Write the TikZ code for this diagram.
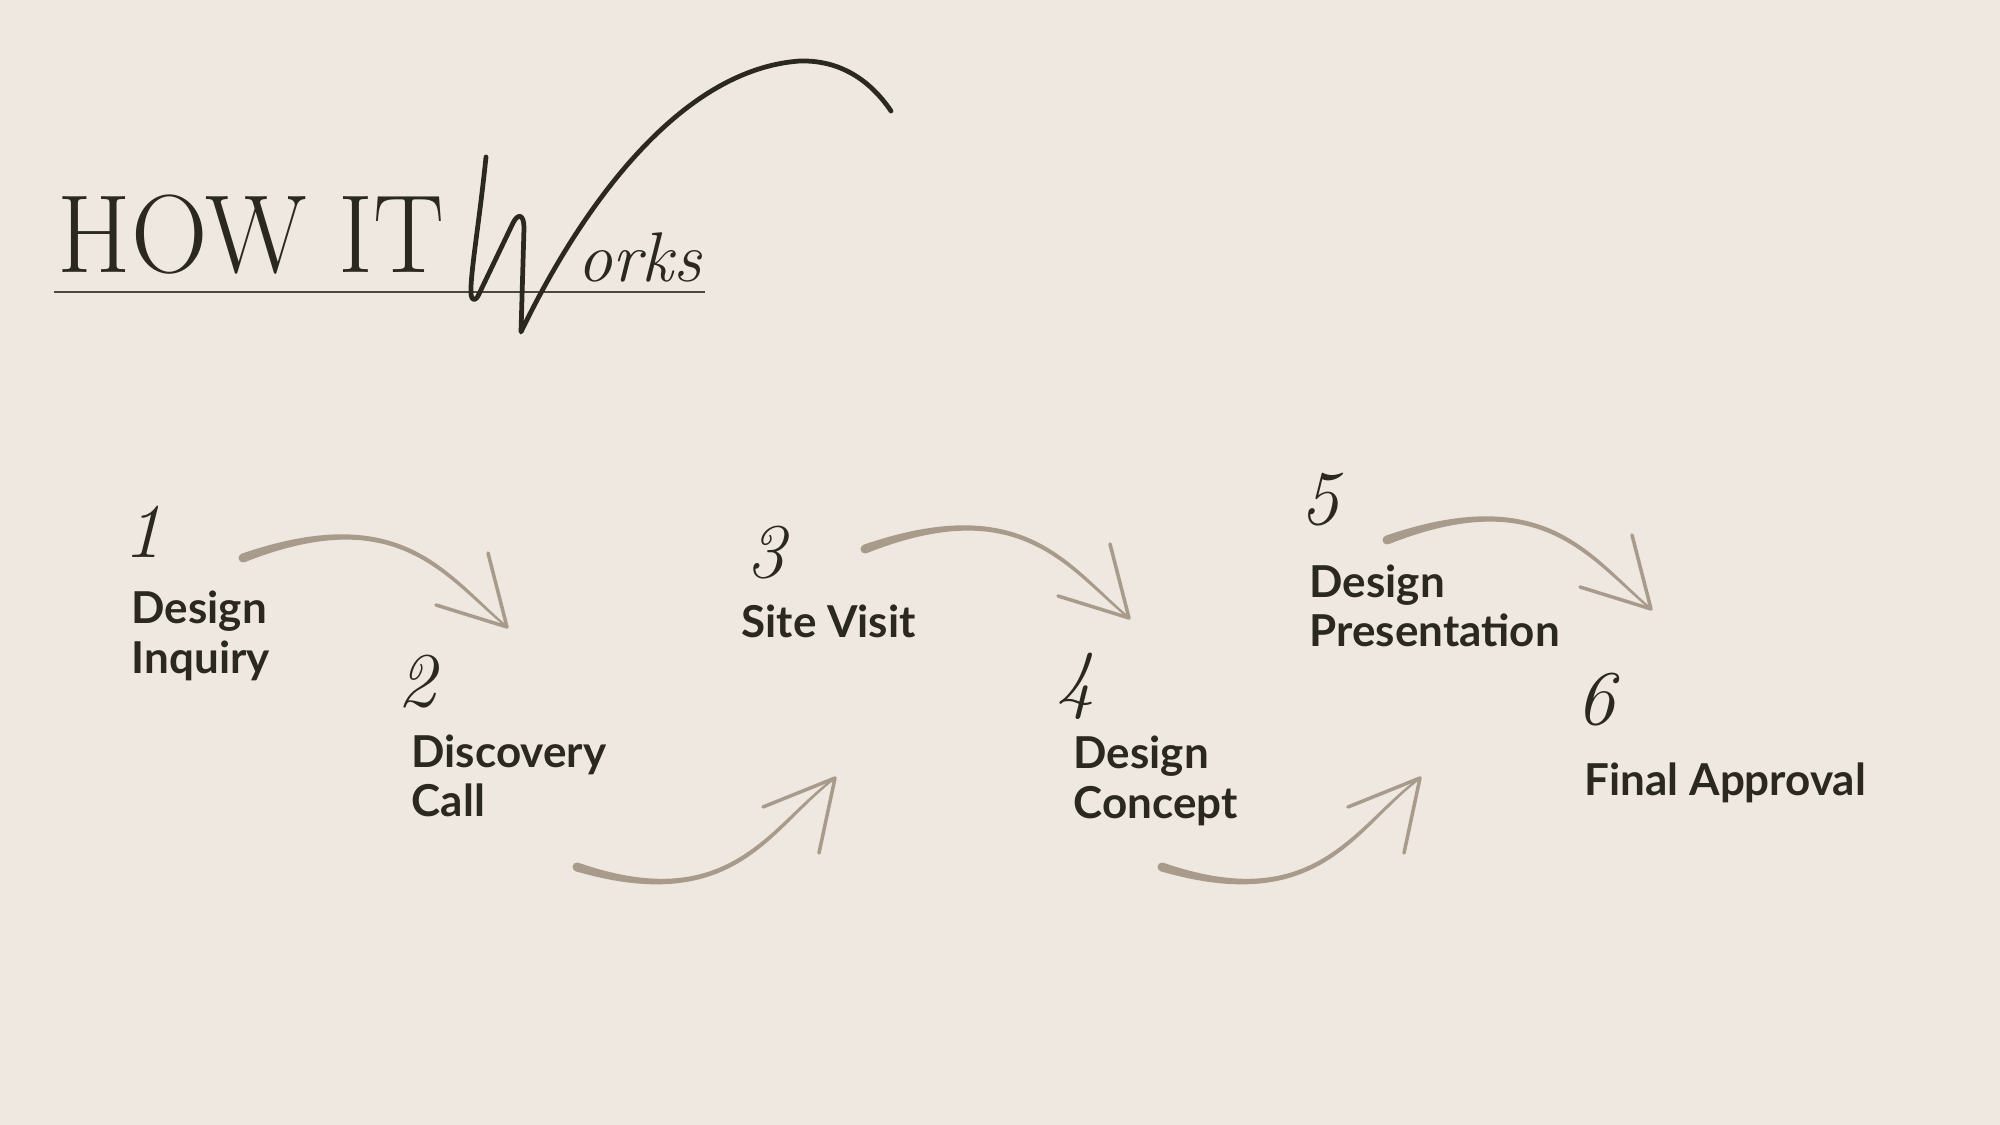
\documentclass[tikz,border=0pt]{standalone}
\usepackage{fontspec}
\usepackage{graphicx}
\usetikzlibrary{calc}
\newfontfamily\lblfont{Lato}
\definecolor{bgc}{HTML}{EFE8E0}
\definecolor{ink}{HTML}{2B2820}
\definecolor{arrc}{HTML}{A89B8C}
\tikzset{
  lbl/.style={anchor=base west, inner sep=0pt, align=left, text=ink, font={\lblfont\bfseries\fontsize{12.5}{14.2}\selectfont}},
  num/.style={anchor=base west, inner sep=0pt, text=ink, font={\itshape\fontsize{22}{22}\selectfont}},
  arrhead/.style={draw=arrc, line width=1.0pt, line cap=round, line join=round},
  wstroke/.style={draw=ink, line width=1.35pt, line cap=round, line join=round},
}
\newcommand\taperfill[4]{%
  \fill[arrc] ($(#1)!0.045cm!90:(#2)$) .. controls ($(#2)!0.032cm!90:(#3)$) and ($(#3)!0.018cm!90:(#4)$) .. ($(#4)!0.011cm!-90:(#3)$)
    -- ($(#4)!0.011cm!90:(#3)$) .. controls ($(#3)!0.018cm!-90:(#4)$) and ($(#2)!0.032cm!-90:(#3)$) .. ($(#1)!0.045cm!-90:(#2)$) -- cycle;
  \fill[arrc] (#1) circle[radius=0.045cm];
}
\begin{document}
\begin{tikzpicture}[x=0.01cm, y=-0.01cm]
\useasboundingbox (0,0) rectangle (2000,1125);
\fill[bgc] (0,0) rectangle (2000,1125);

% title
\node[anchor=base west, inner sep=0pt, text=ink, font={\fontsize{31.6}{32}\selectfont}] (title) at (57,273) {\scalebox{0.955}[1]{HOW IT}};
\coordinate (ulA) at (54,292);
\coordinate (ulB) at (705,292);
\draw[ink!85, line width=0.45pt] (ulA) -- (ulB);
% script W with swoosh
\draw[wstroke] (486,157) .. controls (479,225) and (470,275) .. (471,294)
  .. controls (472,302) and (476,301) .. (479,294) -- (513,223)
  .. controls (518,213) and (524,214) .. (524,228) -- (521,332)
  .. controls (570,230) and (670,70) .. (800,61)
  .. controls (840,60) and (870,80) .. (891,111);
\node[anchor=base west, inner sep=0pt, text=ink, font={\itshape\fontsize{20}{20}\selectfont}] (works) at (577,282) {orks};

% numbers
\node[num] (n1) at (123,558) {1};
\node[num] (n2) at (397,707) {2};
\node[num] (n3) at (746,578) {3};
\node[num] (n4) at (1056,705) {4};
\node[num] (n5) at (1300,525) {5};
\node[num] (n6) at (1576,725) {6};

% labels (anchor = baseline of last line)
\node[lbl] (l1) at (131,673) {Design\\Inquiry};
\node[lbl] (l2) at (411,817) {Discovery\\Call};
\node[lbl] (l3) at (741,638) {Site Visit};
\node[lbl] (l4) at (1073,818) {Design\\Concept};
\node[lbl] (l5) at (1309,647) {Design\\Presentation};
\node[lbl] (l6) at (1584,795) {Final Approval};

% arrow 1
\coordinate (a1s) at (243,558); \coordinate (a1c) at (400,500); \coordinate (a1d) at (445,575); \coordinate (a1e) at (507,627);
\coordinate (a1p) at (488,553); \coordinate (a1q) at (436,605);
\taperfill{a1s}{a1c}{a1d}{a1e}
\draw[arrhead] (a1p) -- (a1e) -- (a1q);
% arrow 3
\coordinate (a3s) at (865,549); \coordinate (a3c) at (1022,491); \coordinate (a3d) at (1067,566); \coordinate (a3e) at (1129,618);
\coordinate (a3p) at (1110,544); \coordinate (a3q) at (1058,596);
\taperfill{a3s}{a3c}{a3d}{a3e}
\draw[arrhead] (a3p) -- (a3e) -- (a3q);
% arrow 5
\coordinate (a5s) at (1387,540); \coordinate (a5c) at (1544,482); \coordinate (a5d) at (1589,557); \coordinate (a5e) at (1651,609);
\coordinate (a5p) at (1632,535); \coordinate (a5q) at (1580,587);
\taperfill{a5s}{a5c}{a5d}{a5e}
\draw[arrhead] (a5p) -- (a5e) -- (a5q);
% arrow 2
\coordinate (a2s) at (577,867); \coordinate (a2c) at (734,917); \coordinate (a2d) at (770,826); \coordinate (a2e) at (835,778);
\coordinate (a2p) at (763,807); \coordinate (a2q) at (819,853);
\taperfill{a2s}{a2c}{a2d}{a2e}
\draw[arrhead] (a2p) -- (a2e) -- (a2q);
% arrow 4
\coordinate (a4s) at (1162,867); \coordinate (a4c) at (1319,917); \coordinate (a4d) at (1355,826); \coordinate (a4e) at (1420,778);
\coordinate (a4p) at (1348,807); \coordinate (a4q) at (1404,853);
\taperfill{a4s}{a4c}{a4d}{a4e}
\draw[arrhead] (a4p) -- (a4e) -- (a4q);
\end{tikzpicture}
\end{document}
